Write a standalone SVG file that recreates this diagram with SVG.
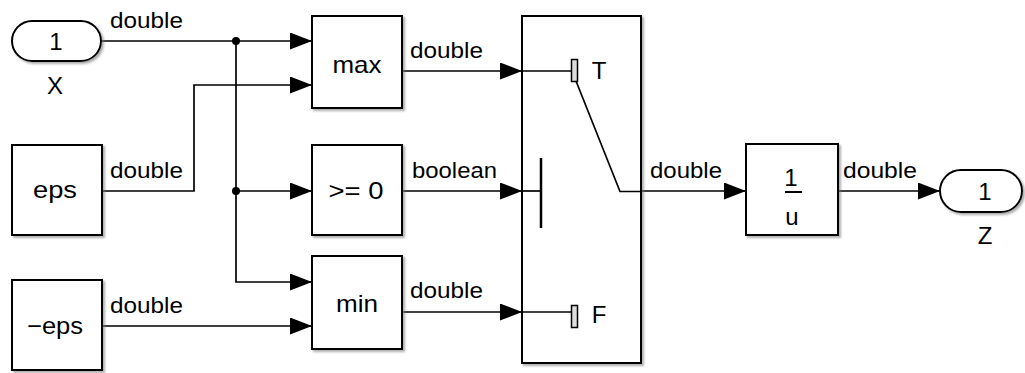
<svg xmlns="http://www.w3.org/2000/svg" width="1025" height="373" viewBox="0 0 1025 373">
<style>
.blk{fill:#fff;stroke:#000;stroke-width:2;filter:url(#sh)}
.ln{fill:none;stroke:#000;stroke-width:1.7}
.lbl{font-family:"Liberation Sans",Arial,sans-serif;font-size:22px;fill:#000}
.bt{font-family:"Liberation Sans",Arial,sans-serif;font-size:24px;fill:#000;text-anchor:middle}
</style>
<defs>
<filter id="sh" x="-10%" y="-10%" width="130%" height="130%">
<feDropShadow dx="2" dy="2" stdDeviation="1.2" flood-color="#777" flood-opacity="0.6"/>
</filter>
<marker id="ar" markerUnits="userSpaceOnUse" markerWidth="23" markerHeight="18" refX="22" refY="8.5" orient="auto">
<path d="M0,0 L22,8.5 L0,17 z" fill="#000"/>
</marker>
</defs>

<g id="connectors">
<path class="ln" d="M101,41 H312" marker-end="url(#ar)"/>
<path class="ln" d="M236,41 V282 H312" marker-end="url(#ar)"/>
<path class="ln" d="M236,191 H312" marker-end="url(#ar)"/>
<path class="ln" d="M102,191 H194 V85 H312" marker-end="url(#ar)"/>
<path class="ln" d="M102,326 H312" marker-end="url(#ar)"/>
<path class="ln" d="M402,71 H522" marker-end="url(#ar)"/>
<path class="ln" d="M402,191 H522" marker-end="url(#ar)"/>
<path class="ln" d="M402,312 H522" marker-end="url(#ar)"/>
<path class="ln" d="M641,191 H746" marker-end="url(#ar)"/>
<path class="ln" d="M838,191 H940" marker-end="url(#ar)"/>
<circle cx="236" cy="41" r="4" fill="#000"/>
<circle cx="236" cy="191" r="4" fill="#000"/>
<text class="lbl" x="110" y="28" textLength="73" lengthAdjust="spacingAndGlyphs">double</text>
<text class="lbl" x="110" y="178" textLength="73" lengthAdjust="spacingAndGlyphs">double</text>
<text class="lbl" x="110" y="313" textLength="73" lengthAdjust="spacingAndGlyphs">double</text>
<text class="lbl" x="410" y="58" textLength="73" lengthAdjust="spacingAndGlyphs">double</text>
<text class="lbl" x="412" y="178" textLength="85" lengthAdjust="spacingAndGlyphs">boolean</text>
<text class="lbl" x="410" y="298" textLength="73" lengthAdjust="spacingAndGlyphs">double</text>
<text class="lbl" x="650" y="178" textLength="72" lengthAdjust="spacingAndGlyphs">double</text>
<text class="lbl" x="843" y="178" textLength="74" lengthAdjust="spacingAndGlyphs">double</text>
</g>

<g id="inport_X">
<rect class="blk" x="12" y="21" width="89" height="40" rx="20" ry="20"/>
<text class="bt" x="56" y="50">1</text>
<text class="bt" x="55" y="94">X</text>
</g>

<g id="eps">
<rect class="blk" x="12" y="145" width="90" height="90"/>
<text class="bt" x="55" y="198" textLength="44" lengthAdjust="spacingAndGlyphs">eps</text>
</g>

<g id="neg_eps">
<rect class="blk" x="12" y="280" width="90" height="90"/>
<text class="bt" x="55" y="334" textLength="56" lengthAdjust="spacingAndGlyphs">−eps</text>
</g>

<g id="max">
<rect class="blk" x="312" y="16" width="90" height="92"/>
<text class="bt" x="357" y="73" textLength="49" lengthAdjust="spacingAndGlyphs">max</text>
</g>

<g id="ge0">
<rect class="blk" x="312" y="145" width="90" height="90"/>
<text class="bt" x="356" y="199" textLength="55" lengthAdjust="spacingAndGlyphs">&gt;= 0</text>
</g>

<g id="min">
<rect class="blk" x="312" y="256" width="90" height="93"/>
<text class="bt" x="357" y="312" textLength="42" lengthAdjust="spacingAndGlyphs">min</text>
</g>

<g id="switch">
<rect class="blk" x="522" y="16" width="119" height="347"/>
<path class="ln" d="M522,71 H572"/>
<rect x="571.5" y="59.5" width="6" height="22" fill="#ddd" stroke="#000" stroke-width="1.5"/>
<text class="bt" x="599" y="79">T</text>
<path class="ln" d="M522,191 H541"/>
<path d="M541,158 V228" stroke="#000" stroke-width="2.5"/>
<path class="ln" d="M576,81 L620,191.5 H641"/>
<path class="ln" d="M522,312 H572"/>
<rect x="571.5" y="305.5" width="6" height="22" fill="#ddd" stroke="#000" stroke-width="1.5"/>
<text class="bt" x="599" y="323">F</text>
</g>

<g id="reciprocal">
<rect class="blk" x="746" y="144" width="92" height="91"/>
<text class="bt" x="791" y="186">1</text>
<path d="M785,192 H802" stroke="#000" stroke-width="2"/>
<text class="bt" x="792" y="225">u</text>
</g>

<g id="outport_Z">
<rect class="blk" x="940" y="170" width="82" height="42" rx="21" ry="21"/>
<text class="bt" x="985" y="200">1</text>
<text class="bt" x="985" y="244">Z</text>
</g>
</svg>
